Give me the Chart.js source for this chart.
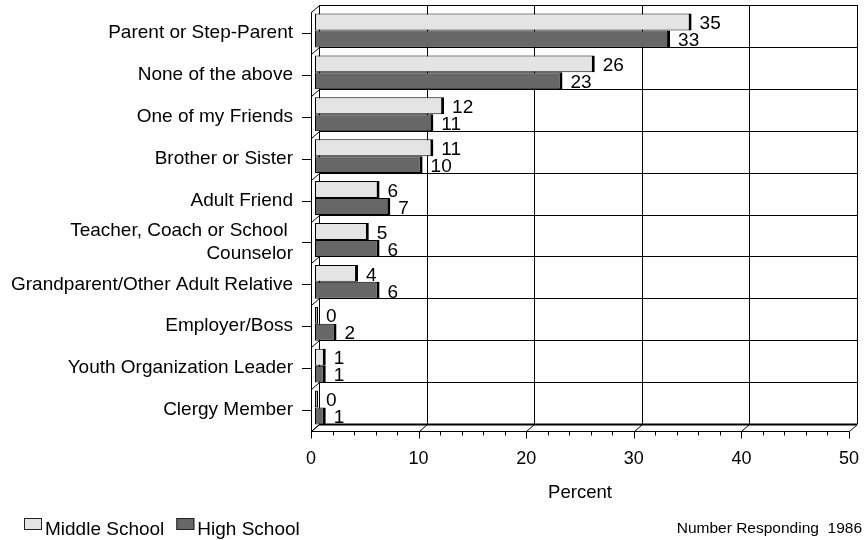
<!DOCTYPE html>
<html lang="en">
<head>
<meta charset="UTF-8">
<title>Who students talk to</title>
<script src="https://cdn.jsdelivr.net/npm/chart.js"></script>
<style>
  html, body { margin: 0; padding: 0; background: #fff; }
  #wrap { width: 866px; height: 540px; }
</style>
</head>
<body>
<div id="wrap"><canvas id="chart" width="866" height="540"></canvas></div>
<script>
// answers, top to bottom
const categories = [
  'Parent or Step-Parent',
  'None of the above',
  'One of my Friends',
  'Brother or Sister',
  'Adult Friend',
  ['Teacher, Coach or School ', 'Counselor'],
  'Grandparent/Other Adult Relative',
  'Employer/Boss',
  'Youth Organization Leader',
  'Clergy Member'
];
const middleSchool = [35, 26, 12, 11, 6, 5, 4, 0, 1, 0];
const highSchool   = [33, 23, 11, 10, 7, 6, 6, 2, 1, 1];
const xTicks = [0, 10, 20, 30, 40, 50];
const footnote = 'Number Responding  1986';

const FONT = "'Liberation Sans', Arial, sans-serif";
Chart.defaults.font.family = FONT;
Chart.defaults.color = '#000';

// depth of the 3-D box, and how far back the bars sit
const DX = 8, DY = -7;
const BX = 4, BY = -2.5;

function line(ctx, x1, y1, x2, y2) {
  ctx.beginPath();
  ctx.moveTo(x1, y1);
  ctx.lineTo(x2, y2);
  ctx.stroke();
}

const box3d = {
  id: 'box3d',
  beforeDatasetsDraw(chart) {
    const { ctx, chartArea: a, scales: { x, y } } = chart;
    const n = categories.length;
    const h = (a.bottom - a.top) / n;
    ctx.save();
    ctx.strokeStyle = '#000';
    ctx.lineWidth = 1;

    // back wall: value gridlines
    xTicks.forEach(v => {
      const px = Math.round(x.getPixelForValue(v)) + DX + 0.5;
      line(ctx, px, a.top + DY, px, a.bottom + DY);
    });
    // back wall: category lines + their diagonals on the side wall
    for (let k = 0; k <= n; k++) {
      const yy = Math.round(a.top + k * h) + 0.5;
      if (k < n) line(ctx, a.left + DX, yy + DY, a.right + DX, yy + DY);
      line(ctx, a.left + 0.5, yy, a.left + DX + 0.5, yy + DY);
    }
    // side wall front edge
    line(ctx, a.left + 0.5, a.top, a.left + 0.5, a.bottom);

    // floor
    const fy = Math.round(a.bottom) + 0.5;
    line(ctx, a.left, fy, a.right, fy);
    xTicks.forEach(v => {
      const px = Math.round(x.getPixelForValue(v)) + 0.5;
      line(ctx, px, fy, px + DX, fy + DY);
    });
    ctx.lineWidth = 2;
    line(ctx, a.left + DX, fy + DY, a.right + DX, fy + DY);
    ctx.lineWidth = 1;

    // tick marks under the floor, minor every 2
    for (let v = x.min; v <= x.max; v += 2) {
      const px = Math.round(x.getPixelForValue(v)) + 0.5;
      line(ctx, px, fy, px, fy + (v % 10 === 0 ? 7 : 4));
    }
    // category tick marks
    categories.forEach((c, i) => {
      const py = Math.round(y.getPixelForTick(i)) + 0.5;
      line(ctx, a.left - 9, py, a.left, py);
    });
    ctx.restore();

    ctx.save();
    ctx.translate(BX, BY);
  },
  afterDatasetsDraw(chart) {
    const { ctx } = chart;
    ctx.restore();

    // value labels at the end of each bar
    ctx.save();
    ctx.font = '19px ' + FONT;
    ctx.fillStyle = '#000';
    ctx.textAlign = 'left';
    ctx.textBaseline = 'middle';
    chart.data.datasets.forEach((ds, di) => {
      chart.getDatasetMeta(di).data.forEach((bar, i) => {
        const p = bar.getProps(['x', 'y'], true);
        ctx.fillText(String(ds.data[i]), p.x + BX + 8, p.y + BY + 2);
      });
    });
    ctx.restore();
  },
  afterDraw(chart) {
    const { ctx } = chart;
    ctx.save();
    // legend
    ctx.font = '19px ' + FONT;
    ctx.textBaseline = 'alphabetic';
    let lx = 24;
    chart.data.datasets.forEach(ds => {
      ctx.fillStyle = ds.backgroundColor;
      ctx.fillRect(lx, 518, 18, 12);
      ctx.strokeStyle = '#222';
      ctx.lineWidth = 1;
      ctx.strokeRect(lx + 0.5, 518.5, 17, 11);
      ctx.fillStyle = '#000';
      ctx.fillText(ds.label, lx + 21, 535);
      lx += 21 + ctx.measureText(ds.label).width + 12;
    });
    // footnote
    ctx.font = '15.5px ' + FONT;
    ctx.textAlign = 'right';
    ctx.fillText(footnote, 862, 533);
    ctx.restore();
  }
};

new Chart(document.getElementById('chart'), {
  type: 'bar',
  data: {
    labels: categories,
    datasets: [
      { label: 'Middle School', data: middleSchool, backgroundColor: '#e4e4e4' },
      { label: 'High School', data: highSchool, backgroundColor: '#676767' }
    ]
  },
  options: {
    indexAxis: 'y',
    responsive: false,
    animation: false,
    layout: { padding: { top: 12, right: 17, left: 0, bottom: 0 } },
    datasets: {
      bar: {
        borderColor: '#000',
        borderWidth: { top: 1, right: 3, bottom: 1, left: 1 },
        borderSkipped: false,
        inflateAmount: 0,
        categoryPercentage: 0.81,
        barPercentage: 1,
        minBarLength: 3
      }
    },
    plugins: {
      legend: { display: false },
      tooltip: { enabled: false }
    },
    scales: {
      x: {
        min: 0,
        max: 50,
        afterBuildTicks: s => { s.ticks = xTicks.map(v => ({ value: v })); },
        afterFit: s => { s.height = 109; s.paddingLeft = 0; s.paddingRight = 0; },
        grid: { display: false, drawTicks: false },
        border: { display: false },
        ticks: { font: { size: 18 }, padding: 17, maxRotation: 0 },
        title: { display: true, text: 'Percent', font: { size: 18.5 }, padding: { bottom: 36 } }
      },
      y: {
        afterFit: s => { s.width = 311; s.paddingTop = 0; s.paddingBottom = 0; },
        grid: { display: false, drawTicks: false },
        border: { display: false },
        ticks: { font: { size: 19, lineHeight: 1.2 }, padding: 18, autoSkip: false }
      }
    }
  },
  plugins: [box3d]
});
</script>
</body>
</html>
